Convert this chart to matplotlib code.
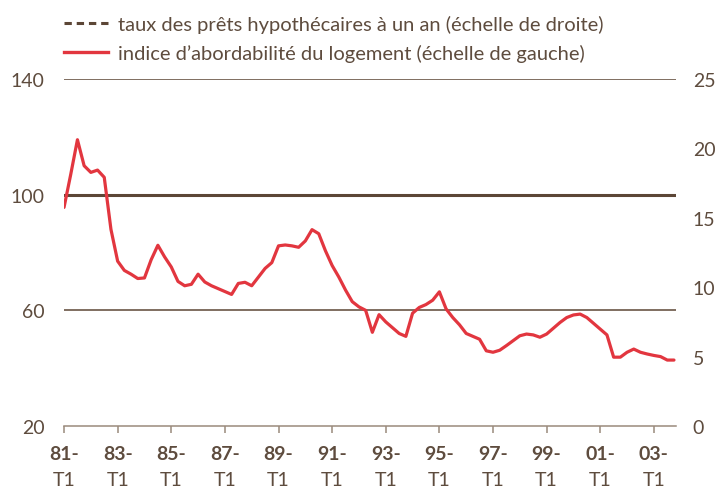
import matplotlib
matplotlib.use('Agg')
import matplotlib.pyplot as plt
import matplotlib.transforms as mtransforms
from matplotlib.lines import Line2D

# quarterly housing affordability index, 81-T1 .. 03-T4 (left scale)
affordability = [
    95.6, 107.0, 119.0, 110.0, 107.7, 108.5, 106.0, 88.0,
    77.0, 73.8, 72.5, 71.0, 71.2, 77.5, 82.5, 78.5,
    75.0, 70.0, 68.5, 69.0, 72.5, 69.8, 68.5, 67.5,
    66.5, 65.5, 69.3, 69.7, 68.5, 71.5, 74.5, 76.5,
    82.3, 82.6, 82.3, 81.8, 84.0, 87.9, 86.5, 80.6,
    75.5, 71.5, 67.0, 63.0, 61.2, 60.0, 52.4, 58.5,
    56.0, 54.0, 52.0, 51.0, 59.0, 61.0, 62.0, 63.5,
    66.4, 60.5, 57.5, 55.0, 52.0, 51.0, 50.0, 46.0,
    45.5, 46.2, 47.8, 49.5, 51.2, 51.8, 51.5, 50.7,
    51.8, 53.8, 55.8, 57.5, 58.4, 58.7, 57.5, 55.5,
    53.5, 51.5, 43.8, 43.8, 45.5, 46.6, 45.5, 44.9,
    44.4, 44.0, 42.8, 42.8,
]
# one-year mortgage rate (right scale) - not drawn in the source chart
mortgage_rate = []

year_labels = ["81-", "83-", "85-", "87-", "89-", "91-", "93-", "95-", "97-", "99-", "01-", "03-"]
quarter_label = "T1"
left_ticks = [20, 60, 100, 140]
right_ticks = [0, 5, 10, 15, 20, 25]

legend_labels = ["taux des prêts hypothécaires à un an (échelle de droite)",
                 "indice d\u2019abordabilité du logement (échelle de gauche)"]

RED = "#e2363f"
BROWN = "#5c4636"
TEXT = "#5e4c3e"
AXIS = "#9a8a7c"

plt.rcParams['font.family'] = ['Lato', 'DejaVu Sans']

fig = plt.figure(figsize=(7.17, 4.89), dpi=100, facecolor="white")
ax = fig.add_axes([0.0893, 0.1268, 0.8535, 0.7096])

x = list(range(len(affordability)))
ax.plot(x, affordability, color=RED, lw=2.3, solid_joinstyle='round',
        solid_capstyle='round', zorder=3)

ax.set_xlim(0, 91.3)
ax.set_ylim(20, 140)

# horizontal rules
for v in left_ticks[1:]:
    ax.axhline(v, color=BROWN, lw=2.2 if v == 100 else 1.1, zorder=1)

for s in ["top", "right", "left"]:
    ax.spines[s].set_visible(False)
ax.spines["bottom"].set_color(AXIS)
ax.spines["bottom"].set_linewidth(1.1)

ax.set_yticks(left_ticks)
ax.set_yticklabels([str(v) for v in left_ticks], fontsize=14, color=TEXT)
ax.tick_params(axis='y', length=0, pad=14)

ticks = [i * 8 for i in range(len(year_labels))]
ax.set_xticks(ticks)
ax.set_xticklabels([])
ax.tick_params(axis='x', length=5, width=1.1, color=AXIS, direction='out')

trans = mtransforms.blended_transform_factory(ax.transData, ax.transAxes)
for t, lab in zip(ticks, year_labels):
    ax.text(t, -0.055, lab, transform=trans, ha='center', va='top',
            fontsize=14, fontweight='bold', color=TEXT)
    ax.text(t, -0.13, quarter_label, transform=trans, ha='center', va='top',
            fontsize=14, color=TEXT)

ax2 = ax.twinx()
ax2.set_ylim(0, 25)
ax2.set_yticks(right_ticks)
ax2.set_yticklabels([str(v) for v in right_ticks], fontsize=14, color=TEXT)
ax2.tick_params(axis='y', length=0, pad=12)
for s in ax2.spines.values():
    s.set_visible(False)
if mortgage_rate:
    ax2.plot(range(len(mortgage_rate)), mortgage_rate, color=BROWN, ls='--', lw=2)

handles = [Line2D([], [], color=BROWN, ls=(0, (2.4, 1.6)), lw=2.2),
           Line2D([], [], color=RED, lw=2.4)]
leg = fig.legend(handles, legend_labels, loc='upper left', bbox_to_anchor=(0.078, 0.984),
                 frameon=False, fontsize=14.5, handlelength=2.2, handletextpad=0.5,
                 labelspacing=0.55, borderaxespad=0.0)
for t in leg.get_texts():
    t.set_color(TEXT)

fig.savefig("out.png", dpi=100, facecolor="white")
